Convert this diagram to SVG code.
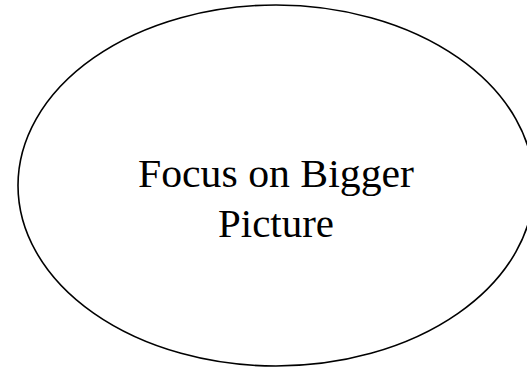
<svg xmlns="http://www.w3.org/2000/svg" width="527" height="368" viewBox="0 0 527 368">
<style>
.shape{fill:#fff;stroke:#000;stroke-width:1.6}
.lbl{font-family:"Liberation Serif","Times New Roman",serif;font-size:39px;fill:#000;text-anchor:middle}
</style>
<rect width="527" height="368" fill="#fff"/>
<g id="node-focus">
<ellipse class="shape" cx="276" cy="185.5" rx="258" ry="180.5"/>
<text class="lbl" x="276" y="187" textLength="276" lengthAdjust="spacingAndGlyphs">Focus on Bigger</text>
<text class="lbl" x="276" y="237" textLength="116" lengthAdjust="spacingAndGlyphs">Picture</text>
</g>
<g id="connectors"></g>
</svg>
